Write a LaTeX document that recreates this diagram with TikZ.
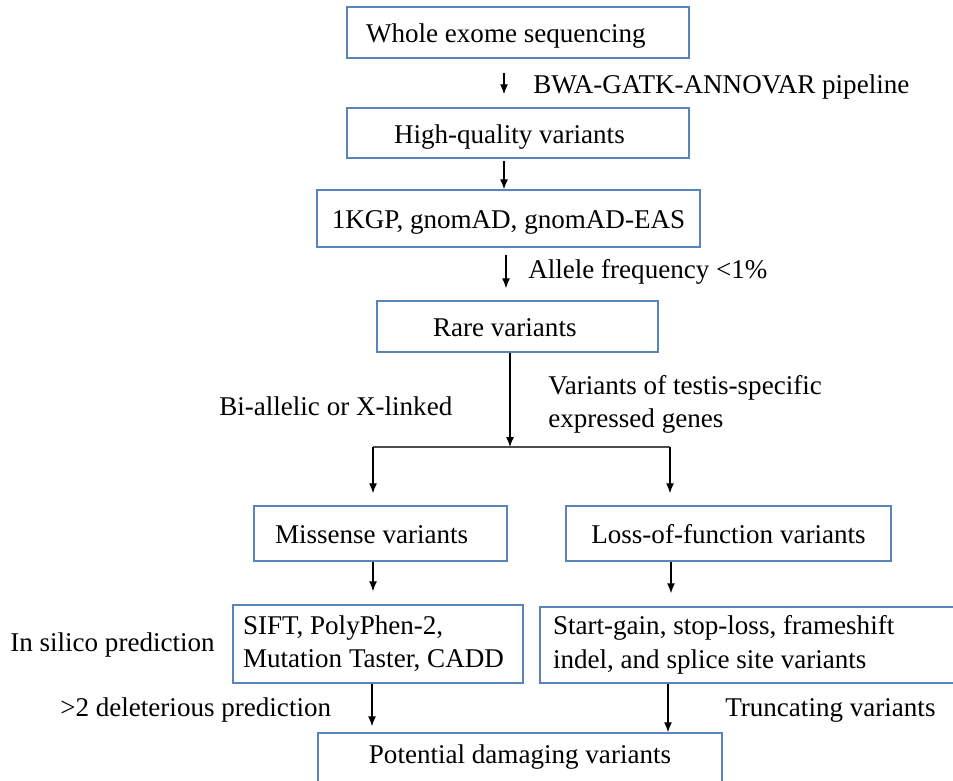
\documentclass[tikz,border=0pt]{standalone}
\usepackage{fontspec}
\setmainfont{Liberation Serif}
\usetikzlibrary{arrows.meta}
\definecolor{boxblue}{RGB}{88,132,186}
\begin{document}
\begin{tikzpicture}[
  x=0.75pt,y=-0.75pt,
  font=\fontsize{20.3}{25}\selectfont,
  box/.style={draw=boxblue, line width=1.1pt, inner sep=0pt, align=center},
  boxl/.style 2 args={box, align=flush left, inner xsep=#1*0.75pt, text width=#2*0.75pt},
  one/.style={text height=19.9pt, text depth=4.5pt},
  lbl/.style={inner sep=0pt, anchor=west, align=left},
  arrow/.style={-{Latex[length=7.5pt,width=6pt]}, line width=0.9pt}
]
\useasboundingbox (0,0) rectangle (953,781);
% boxes
\node[boxl={19}{304}, one, minimum height=51*0.75pt] (wes) at (518,32.5) {Whole exome sequencing};
\node[boxl={47}{248}, one, minimum height=50*0.75pt] (hq) at (518,133) {High-quality variants};
\node[box, one, minimum width=383*0.75pt, minimum height=57*0.75pt] (freq) at (508.5,218.5) {1KGP, gnomAD, gnomAD-EAS};
\node[boxl={56}{169}, one, minimum height=51*0.75pt] (rare) at (517.5,326.5) {Rare variants};
\node[boxl={21}{211}, one, minimum height=55*0.75pt] (mis) at (380.5,533.5) {Missense variants};
\node[box, one, minimum width=325*0.75pt, minimum height=55*0.75pt] (lof) at (728.5,533.5) {Loss-of-function variants};
\node[boxl={10}{270}, minimum height=78*0.75pt] (sift) at (378,644)
  {SIFT, PolyPhen-2,\\Mutation Taster, CADD};
\node[boxl={13}{414}, minimum height=76*0.75pt] (trunc) at (760,645)
  {Start-gain, stop-loss, frameshift\\indel, and splice site variants};
\node[box, minimum width=404*0.75pt, minimum height=49*0.75pt] (dmg) at (520,757.5) {Potential damaging variants};
% labels
\node[lbl] (pipe) at (533,86.5) {BWA-GATK-ANNOVAR pipeline};
\node[lbl] (af) at (528,272) {Allele frequency <1\%};
\node[lbl] (bi) at (219,406) {Bi-allelic or X-linked};
\node[lbl] (testis) at (548,404.5) {Variants of testis-specific\\expressed genes};
\node[lbl] (silico) at (10,644.5) {In silico prediction};
\node[lbl] (del) at (60,710) {>2 deleterious prediction};
\node[lbl] (trv) at (725,710.5) {Truncating variants};
% arrow columns
\coordinate (c1) at (504,0);
\coordinate (c2) at (506,0);
\coordinate (c3) at (510,0);
\coordinate (jl) at (373,447);
\coordinate (jr) at (670,447);
\coordinate (jm) at (510,447);
% connectors
\draw[arrow, shorten <=10.5pt, shorten >=9.75pt] (wes.south -| c1) -- (hq.north -| c1);
\draw[arrow, shorten <=1.5pt] (hq.south -| c1) -- (freq.north -| c1);
\draw[arrow, shorten <=5.25pt, shorten >=9pt] (freq.south -| c2) -- (rare.north -| c2);
\draw[arrow] (rare.south -| c3) -- (jm);
\draw[black!70, line width=0.8pt] (jl) -- (jr);
\draw[arrow, shorten >=9pt] (jl) -- (mis.north -| jl);
\draw[arrow, shorten >=9pt] (jr) -- (lof.north -| jr);
\draw[arrow, shorten >=9.75pt] (mis.south -| jl) -- (sift.north -| jl);
\draw[arrow, shorten >=9.75pt] (lof.south -| 671,0) -- (trunc.north -| 671,0);
\draw[arrow, shorten >=4.5pt] (sift.south -| 372,0) -- (dmg.north -| 372,0);
\draw[arrow] (trunc.south -| 668,0) -- (dmg.north -| 668,0);
\end{tikzpicture}
\end{document}
